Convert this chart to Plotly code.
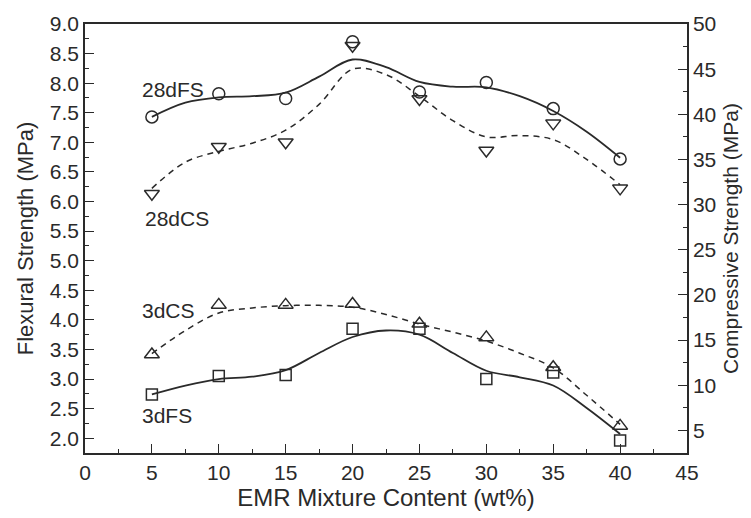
import plotly.graph_objects as go

# measured data
emr = [5, 10, 15, 20, 25, 30, 35, 40]
fs_28d = [7.43, 7.82, 7.74, 8.70, 7.85, 8.01, 7.57, 6.72]
cs_28d = [31.2, 36.4, 36.9, 47.6, 41.7, 36.0, 39.0, 31.8]
fs_3d = [2.74, 3.05, 3.07, 3.85, 3.85, 3.00, 3.11, 1.96]
cs_3d = [13.4, 18.9, 18.9, 19.0, 16.8, 15.3, 12.0, 5.5]

# fitted curves
fit_x = [5, 7.5, 10, 12.5, 15, 17.5, 20, 22.5, 25, 27.5, 30, 32.5, 35, 37.5, 40]
fs_28d_fit = [7.43, 7.67, 7.76, 7.78, 7.84, 8.11, 8.40, 8.27, 8.02, 7.94, 7.93, 7.78, 7.53, 7.18, 6.74]
cs_28d_fit = [31.8, 34.7, 35.9, 36.8, 38.25, 41.1, 45.0, 44.4, 42.0, 39.3, 37.5, 37.65, 37.2, 35.0, 32.2]
fs_3d_fit = [2.74, 2.89, 3.00, 3.04, 3.15, 3.44, 3.71, 3.82, 3.75, 3.44, 3.14, 3.03, 2.89, 2.51, 2.07]
cs_3d_fit = [13.5, 16.06, 18.0, 18.56, 18.81, 18.85, 18.64, 17.84, 16.77, 15.88, 14.9, 13.55, 11.93, 8.89, 5.67]

labels = ["28dFS", "28dCS", "3dCS", "3dFS"]
label_x = [4.1, 4.3, 4.1, 4.1]
label_y = [7.9, 5.71, 4.15, 2.38]

INK = "#2a2a2a"
FONT = "Liberation Sans, Arial, sans-serif"

fig = go.Figure()

def curve(x, y, axis, dash, width):
    fig.add_trace(go.Scatter(x=x, y=y, mode="lines", yaxis=axis,
                             line=dict(color=INK, width=width, dash=dash, shape="spline", smoothing=1.0),
                             showlegend=False, hoverinfo="skip"))

def pts(x, y, axis, sym, size):
    fig.add_trace(go.Scatter(x=x, y=y, mode="markers", yaxis=axis,
                             marker=dict(symbol=sym, size=size, color=INK,
                                         line=dict(color=INK, width=1.5)),
                             showlegend=False))

curve(fit_x, fs_28d_fit, "y", "solid", 1.8)
curve(fit_x, cs_28d_fit, "y2", "6px,5px", 1.5)
curve(fit_x, fs_3d_fit, "y", "solid", 1.8)
curve(fit_x, cs_3d_fit, "y2", "6px,5px", 1.5)

pts(emr, fs_28d, "y", "circle-open", 12)
pts(emr, cs_28d, "y2", "triangle-down-open", 13)
pts(emr, fs_3d, "y", "square-open", 11)
pts(emr, cs_3d, "y2", "triangle-up-open", 13)

for t, lx, ly in zip(labels, label_x, label_y):
    fig.add_annotation(x=lx, y=ly, xref="x", yref="y", text=t, showarrow=False,
                       xanchor="left", yanchor="middle",
                       font=dict(family=FONT, size=21, color=INK))

axis_common = dict(showline=True, linecolor=INK, linewidth=1.5, ticks="inside",
                   tickcolor=INK, tickwidth=1.3, ticklen=9, showgrid=False, zeroline=False,
                   tickfont=dict(family=FONT, size=21, color=INK))

fig.update_layout(
    width=751, height=518,
    margin=dict(l=85, r=64, t=17, b=59),
    paper_bgcolor="white", plot_bgcolor="white",
    font=dict(family=FONT, color=INK),
    xaxis=dict(range=[0, 45], dtick=5, tick0=0, mirror=True,
               minor=dict(ticks="inside", dtick=2.5, ticklen=4.5, tickcolor=INK, tickwidth=1.2),
               title=dict(text="EMR Mixture Content (wt%)", font=dict(family=FONT, size=24, color=INK), standoff=5),
               **axis_common),
    yaxis=dict(range=[1.75, 9.0], dtick=0.5, tick0=0, tickformat=".1f",
               minor=dict(ticks="inside", dtick=0.25, ticklen=4.5, tickcolor=INK, tickwidth=1.2),
               title=dict(text="Flexural Strength (MPa)", font=dict(family=FONT, size=22, color=INK), standoff=10),
               **axis_common),
    yaxis2=dict(range=[2.5, 50], dtick=5, tick0=0, overlaying="y", side="right",
                minor=dict(ticks="inside", dtick=2.5, ticklen=4.5, tickcolor=INK, tickwidth=1.2),
                title=dict(text="Compressive Strength (MPa)", font=dict(family=FONT, size=21, color=INK), standoff=8),
                **axis_common),
)

fig.write_html("out.html")
